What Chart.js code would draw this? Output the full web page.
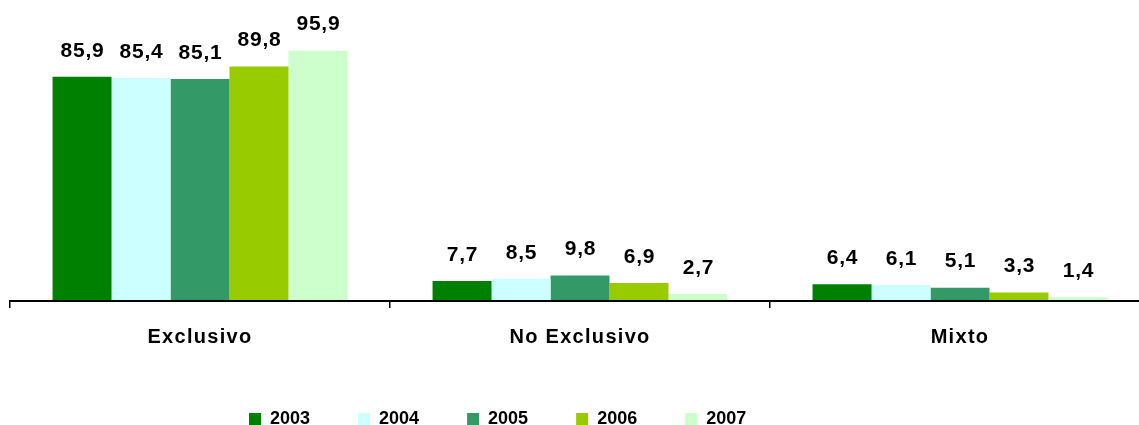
<!DOCTYPE html>
<html>
<head>
<meta charset="utf-8">
<script src="https://cdn.jsdelivr.net/npm/chart.js@4/dist/chart.umd.min.js"></script>
<style>
  html, body { margin: 0; padding: 0; background: #ffffff; overflow: hidden; width: 1139px; height: 425px; }
  #wrap { position: absolute; left: 0; top: 0; width: 1160px; height: 425px; }
</style>
</head>
<body>
<div id="wrap"><canvas id="c" width="1160" height="425"></canvas></div>
<script>
const categories = ['Exclusivo', 'No Exclusivo', 'Mixto'];
const seriesNames = ['2003', '2004', '2005', '2006', '2007'];
const v2003 = [85.9, 7.7, 6.4];
const v2004 = [85.4, 8.5, 6.1];
const v2005 = [85.1, 9.8, 5.1];
const v2006 = [89.8, 6.9, 3.3];
const v2007 = [95.9, 2.7, 1.4];
const colors = ['#008000', '#CCFFFF', '#339966', '#99CC00', '#CCFFCC'];

const FONT = '"Liberation Sans", Arial, sans-serif';
const seriesValues = [v2003, v2004, v2005, v2006, v2007];

const valueLabels = {
  id: 'valueLabels',
  afterDatasetsDraw(chart) {
    const ctx = chart.ctx;
    ctx.save();
    ctx.font = 'bold 21px ' + FONT;
    ctx.letterSpacing = '0.8px';
    ctx.fillStyle = '#000000';
    ctx.textAlign = 'center';
    ctx.textBaseline = 'middle';
    chart.data.datasets.forEach((ds, di) => {
      const meta = chart.getDatasetMeta(di);
      meta.data.forEach((bar, i) => {
        const txt = ds.data[i].toFixed(1).replace('.', ',');
        ctx.fillText(txt, bar.x + 0.5, bar.y - 26);
      });
    });
    ctx.restore();
    // spacing for the category labels drawn after the datasets (ticks z = 1)
    ctx.letterSpacing = '1.3px';
  },
  afterDraw(chart) {
    chart.ctx.letterSpacing = '0px';
  }
};

const legendPlace = {
  id: 'legendPlace',
  beforeDraw(chart) {
    const lg = chart.legend;
    if (!lg) return;
    chart.ctx.letterSpacing = '0px';
    lg.left = 249 - 48;
    lg.right = 1160;
    lg.top = 410 - 48;
    lg.bottom = 425;
    lg.width = lg.right - lg.left;
    lg.height = lg.bottom - lg.top;
  }
};

new Chart(document.getElementById('c'), {
  type: 'bar',
  data: {
    labels: categories,
    datasets: seriesNames.map((name, i) => ({
      label: name,
      data: seriesValues[i],
      backgroundColor: colors[i],
      borderWidth: 0,
      categoryPercentage: 0.776,
      barPercentage: 1.0
    }))
  },
  options: {
    responsive: false,
    animation: false,
    events: [],
    layout: { padding: { top: 40, left: 10, right: 10, bottom: 16 } },
    scales: {
      x: {
        offset: true,
        grid: {
          display: true,
          drawOnChartArea: false,
          drawTicks: true,
          tickLength: 7,
          color: '#000000',
          lineWidth: 1.5
        },
        border: { display: true, color: '#000000', width: 2, z: 1 },
        ticks: {
          z: 1,
          color: '#000000',
          padding: 17,
          font: { family: FONT, size: 20, weight: 'bold' }
        }
      },
      y: {
        display: false,
        min: 0,
        max: 100
      }
    },
    plugins: {
      tooltip: { enabled: false },
      legend: {
        position: 'bottom',
        align: 'start',
        maxHeight: 43,
        labels: {
          boxWidth: 12,
          boxHeight: 12,
          padding: 48,
          color: '#000000',
          font: { family: FONT, size: 18, weight: 'bold' }
        }
      }
    }
  },
  plugins: [valueLabels, legendPlace]
});
</script>
</body>
</html>
